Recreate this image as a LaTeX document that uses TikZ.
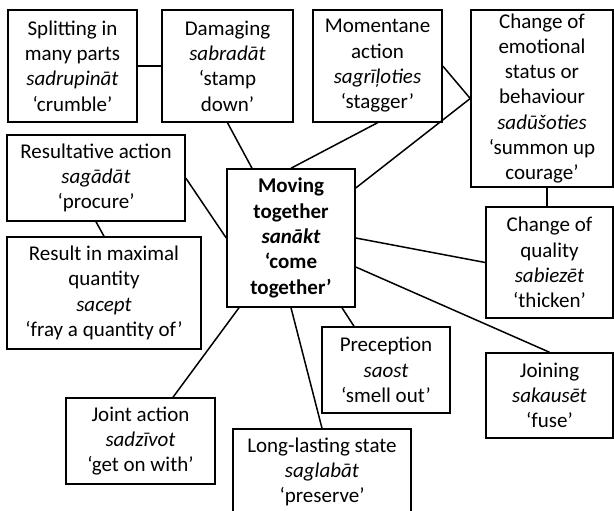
\documentclass[tikz,border=0pt]{standalone}
\usepackage{fontspec}
\setmainfont{Carlito}
\begin{document}
\begin{tikzpicture}[x=1pt,y=-1pt,
  box/.style={draw=black,line width=1.5pt,fill=white,align=center,inner sep=0pt,
    font=\fontsize{21}{25.3}\selectfont},
  link/.style={draw=black,line width=1.5pt}]
\clip (0,0) rectangle (614,511);
\fill[white] (0,0) rectangle (614,511);

% top row
\node[box,minimum width=129pt,minimum height=112pt] (split) at (72.5,66)
  {Splitting in\\many parts\\\textit{sadrupināt}\\‘crumble’};
\node[box,minimum width=131pt,minimum height=112pt] (dam) at (227.5,66)
  {Damaging\\\textit{sabradāt}\\‘stamp\\down’};
\node[box,minimum width=129pt,minimum height=112pt] (mom) at (377.5,66)
  {Momentane\\action\\\textit{sagrīļoties}\\‘stagger’};
\node[box,minimum width=142pt,minimum height=177pt] (emo) at (542,98.5)
  {Change of\\emotional\\status or\\behaviour\\\textit{sadūšoties}\\‘summon up\\courage’};

% left column
\node[box,minimum width=178pt,minimum height=86pt] (res) at (96,178)
  {Resultative action\\\textit{sagādāt}\\‘procure’};
\node[box,minimum width=194pt,minimum height=112pt] (max) at (104,293)
  {Result in maximal\\quantity\\\textit{sacept}\\‘fray a quantity of’};

% centre
\node[box,minimum width=128pt,minimum height=138pt,font=\fontsize{21}{25.3}\selectfont\bfseries] (ctr) at (291,238)
  {Moving\\together\\\textit{sanākt}\\‘come\\together’};

% right column
\node[box,minimum width=127pt,minimum height=111pt] (qual) at (549.5,262.5)
  {Change of\\quality\\\textit{sabiezēt}\\‘thicken’};
\node[box,minimum width=127pt,minimum height=85pt] (join) at (549.5,395.5)
  {Joining\\\textit{sakausēt}\\‘fuse’};

% bottom row
\node[box,minimum width=128pt,minimum height=86pt] (prec) at (386,370)
  {Preception\\\textit{saost}\\‘smell out’};
\node[box,minimum width=149pt,minimum height=86pt] (joint) at (140.5,441)
  {Joint action\\\textit{sadzīvot}\\‘get on with’};
\node[box,minimum width=178pt,minimum height=86pt] (long) at (322,472)
  {Long-lasting state\\\textit{saglabāt}\\‘preserve’};

% connectors
\draw[link] (split.east) -- (dam.west);
\draw[link] (dam.south) -- ([xshift=-39pt]ctr.north);
\draw[link] (mom.south) -- (ctr.north);
\draw[link] (mom.east) -- (emo.west);
\draw[link] (emo.west) -- ([yshift=50pt]ctr.east);
\draw[link] ([xshift=5pt]emo.south) -- ([xshift=-2.5pt]qual.north);
\draw[link] (ctr.east) -- (qual.west);
\draw[link] ([yshift=-29pt]ctr.east) -- (join.north);
\draw[link] ([xshift=51pt]ctr.south) -- ([xshift=-32pt]prec.north);
\draw[link] (ctr.south) -- (long.north);
\draw[link] ([xshift=-52pt]ctr.south) -- ([xshift=32.5pt]joint.north);
\draw[link] (res.east) -- (ctr.west);
\draw[link] (res.south) -- (max.north);
\end{tikzpicture}
\end{document}
